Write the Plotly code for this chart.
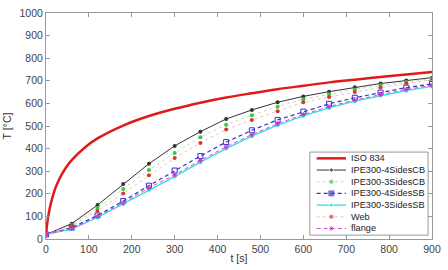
import plotly.graph_objects as go

iso_t = [0, 5, 10, 20, 30, 45, 60, 90, 120, 180, 240, 300, 360, 420, 480, 540, 600, 660, 720, 780, 840, 900]
iso_T = [20, 97, 147, 215, 261, 312, 349, 404, 445, 502, 544, 576, 603, 626, 645, 663, 678, 693, 705, 717, 728, 739]

t = [0, 60, 120, 180, 240, 300, 360, 420, 480, 540, 600, 660, 720, 780, 840, 900]
cb4 = [20, 68, 150, 243, 333, 412, 475, 531, 571, 605, 631, 652, 671, 688, 701, 714]
cb3 = [20, 62, 137, 221, 305, 380, 450, 506, 548, 585, 618, 640, 662, 680, 695, 710]
sb4 = [20, 50, 104, 168, 236, 303, 367, 429, 481, 527, 564, 598, 625, 648, 670, 686]
sb3 = [20, 44, 95, 155, 218, 276, 340, 400, 455, 504, 545, 580, 610, 635, 657, 675]
web = [20, 56, 124, 201, 282, 358, 425, 485, 527, 565, 605, 628, 650, 670, 688, 705]
flange = [20, 46, 100, 160, 226, 284, 348, 408, 462, 510, 551, 586, 615, 640, 662, 680]

names = ["ISO 834", "IPE300-4SidesCB", "IPE300-3SidesCB", "IPE300-4SidesSB",
         "IPE300-3SidesSB", "Web", "flange"]

styles = [
    dict(line=dict(color="#e01a1a", width=2.5), marker=None),
    dict(line=dict(color="#333333", width=1), marker=dict(size=4, color="#333333")),
    dict(line=dict(color="rgba(150,200,150,0.6)", width=1, dash="dot"), marker=dict(size=4, color="#33cc33")),
    dict(line=dict(color="#3333cc", width=1.2, dash="4px,3px"), marker=dict(size=5, symbol="square-open", color="#3333cc")),
    dict(line=dict(color="#33dddd", width=1.3), marker=dict(size=4, color="#33dddd")),
    dict(line=dict(color="rgba(230,150,150,0.6)", width=1, dash="dot"), marker=dict(size=4, color="#dd3333")),
    dict(line=dict(color="#dd44dd", width=1, dash="4px,3px"), marker=dict(size=4, symbol="asterisk-open", color="#cc33cc")),
]
series = [cb4, cb3, sb4, sb3, web, flange]

fig = go.Figure()
fig.add_trace(go.Scatter(x=iso_t, y=iso_T, mode="lines", name=names[0],
                         line=dict(styles[0]["line"], shape="spline"), showlegend=False))
for nm, st, ys in zip(names[1:], styles[1:], series):
    fig.add_trace(go.Scatter(x=t, y=ys, mode="lines+markers", name=nm,
                             line=st["line"], marker=st["marker"], showlegend=False))

# ---- custom compact legend (pixel coordinates on an overlay axis) ----
L, R, T, B = 41, 436, 7, 241
bx0, bx1, by0, by1 = 311, 432, 151, 237
row0, rowgap = 157.5, 12.1
fig.add_trace(go.Scatter(x=[bx0, bx1, bx1, bx0, bx0], y=[by0, by0, by1, by1, by0],
                         xaxis="x2", yaxis="y2", mode="lines", fill="toself",
                         fillcolor="white", line=dict(color="#999999", width=1),
                         showlegend=False, hoverinfo="skip"))
annotations = []
for i, (nm, st) in enumerate(zip(names, styles)):
    yy = row0 + i * rowgap
    mk = st["marker"]
    lm = dict(size=[0, 0, 0]) if mk is None else dict(mk, size=[0, mk["size"], 0])
    if i == 3:
        lm = dict(size=[0, 5, 0], symbol="square", color="#4444cc")
    fig.add_trace(go.Scatter(x=[318, 333, 348], y=[yy, yy, yy], xaxis="x2", yaxis="y2",
                             mode="lines+markers", line=st["line"], marker=lm,
                             showlegend=False, hoverinfo="skip", cliponaxis=False))
    annotations.append(dict(x=352, y=yy, xref="x2", yref="y2", text=nm, showarrow=False,
                            xanchor="left", yanchor="middle", borderpad=0,
                            font=dict(size=9.2, color="#222222")))

axis_common = dict(showline=True, linecolor="#999999", linewidth=1, mirror="ticks",
                   ticks="inside", ticklen=4, tickcolor="#999999", showgrid=False,
                   zeroline=False, tickfont=dict(size=10.5, color="#444444"))

fig.update_layout(
    width=448, height=270,
    margin=dict(l=L, r=448 - R, t=T, b=270 - B),
    paper_bgcolor="white", plot_bgcolor="white",
    font=dict(family="Liberation Sans, Arial, sans-serif", size=11, color="#333333"),
    xaxis=dict(range=[0, 900], dtick=100, title=dict(text="t [s]", standoff=1, font=dict(size=10.5)), **axis_common),
    yaxis=dict(range=[0, 1000], dtick=100, title=dict(text="T [°C]", standoff=5, font=dict(size=10.5)), **axis_common),
    xaxis2=dict(range=[L, R], overlaying="x", visible=False, fixedrange=True),
    yaxis2=dict(range=[B, T], overlaying="y", visible=False, fixedrange=True),
    annotations=annotations,
    showlegend=False,
)

fig.write_html("out.html")
